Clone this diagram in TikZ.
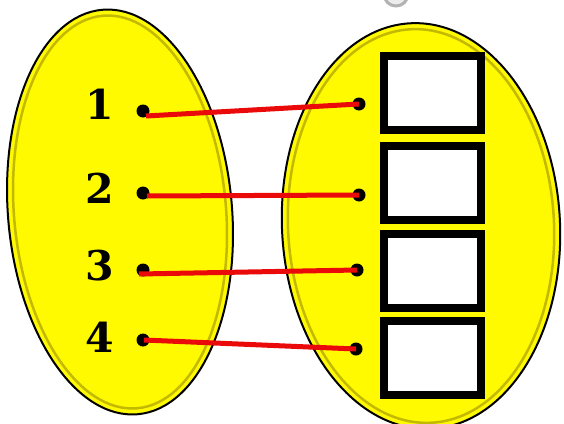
\documentclass[tikz,border=0pt]{standalone}
\usepackage{fontspec}
\usepackage{tikz}
\newfontfamily\numfont{DejaVu Serif}
\definecolor{yel}{RGB}{255,250,0}
\definecolor{rim}{RGB}{195,185,0}
\definecolor{redl}{RGB}{235,10,10}
\tikzset{
  setell/.style={fill=yel,draw=black,line width=2pt},
  rimell/.style={draw=rim,line width=2.5pt},
  numtxt/.style={font=\numfont\fontsize{41}{41}\selectfont\bfseries,inner sep=0pt,text=black},
  dotn/.style={circle,fill=black,minimum size=13pt,inner sep=0pt},
  link/.style={draw=redl,line width=5pt},
  ansbox/.style={draw=black,fill=white,line width=8pt,minimum width=97pt,minimum height=74pt,inner sep=0pt}
}
\begin{document}
\begin{tikzpicture}[x=1pt,y=-1pt]
\useasboundingbox (0,0) rectangle (564,423);
\fill[white] (0,0) rectangle (564,423);
\begin{scope}
\clip (0,0) rectangle (564,423);
\draw[gray!60,line width=3pt,fill=gray!15] (396,-6) circle (12);
% left set
\draw[setell,rotate around={5:(120,212)}] (120,212) ellipse [x radius=112, y radius=203];
\draw[rimell,rotate around={5:(120,212)}] (120,212) ellipse [x radius=106, y radius=197];
% right set
\draw[setell,rotate around={3:(421,226)}] (421,226) ellipse [x radius=139, y radius=203];
\draw[rimell,rotate around={3:(421,226)}] (421,226) ellipse [x radius=133, y radius=197];
\end{scope}
% numbers
\node[numtxt] (n1) at (100,104) {1};
\node[numtxt] (n2) at (100,188) {2};
\node[numtxt] (n3) at (100,266) {3};
\node[numtxt] (n4) at (100,337) {4};
% dots
\node[dotn] (a1) at (143,111) {};
\node[dotn] (a2) at (143,193) {};
\node[dotn] (a3) at (143,270) {};
\node[dotn] (a4) at (143,340) {};
\node[dotn] (b1) at (359,104) {};
\node[dotn] (b2) at (359,195) {};
\node[dotn] (b3) at (357,270) {};
\node[dotn] (b4) at (356,349) {};
% boxes
\node[ansbox] (r1) at (432.5,93) {};
\node[ansbox] (r2) at (432.5,183) {};
\node[ansbox] (r3) at (432.5,271) {};
\node[ansbox] (r4) at (432.5,358) {};
% links
\draw[link] (a1.center) ++(3,5) -- (b1.center);
\draw[link] (a2.center) ++(4,3) -- (b2.center);
\draw[link] (a3.center) ++(-4,4) -- (b3.center);
\draw[link] (a4.center) ++(1,0) -- (b4.center);
\end{tikzpicture}
\end{document}
